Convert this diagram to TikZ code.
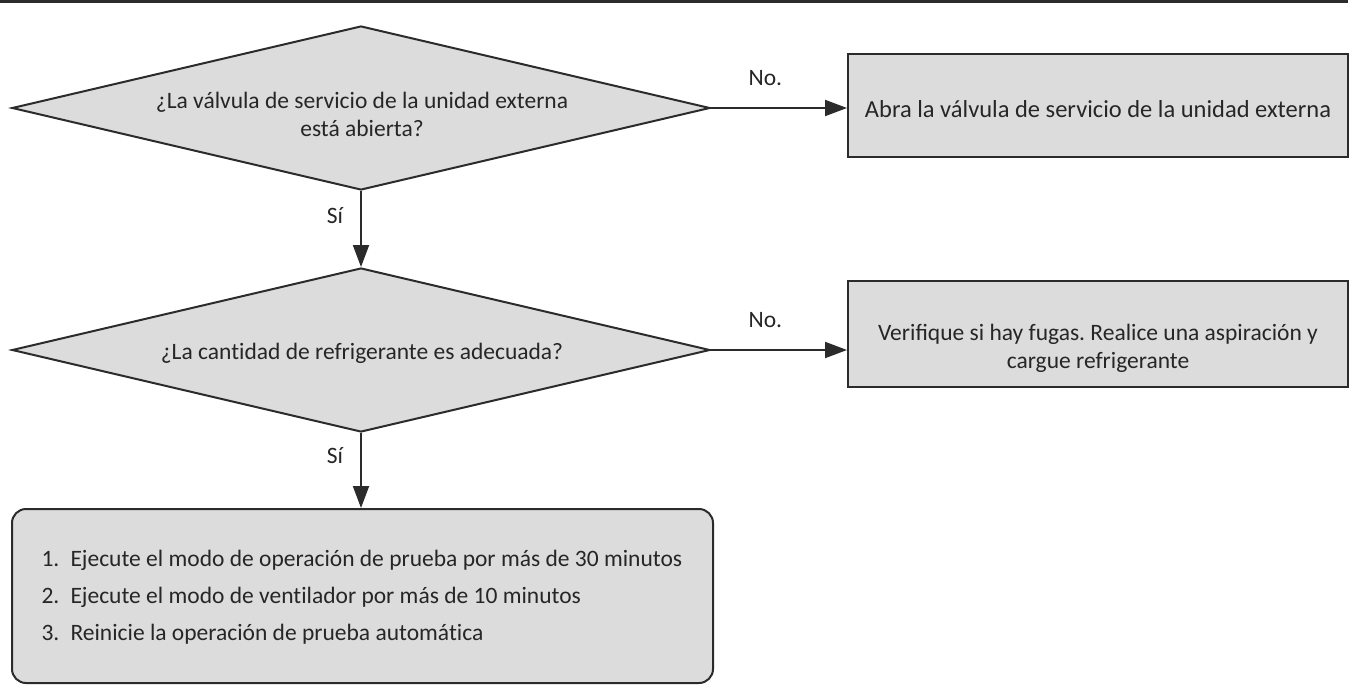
\documentclass[tikz,border=0pt]{standalone}
\usepackage{fontspec}
\setmainfont{Carlito}
\usetikzlibrary{shapes.geometric,arrows.meta}
\frenchspacing
\definecolor{boxfill}{HTML}{DCDCDC}
\definecolor{edge}{HTML}{2B2B2B}
\newcommand{\nolig}{\kern0pt }
\tikzset{
  dec/.style={shape=diamond, draw=edge, fill=boxfill, line width=2pt, inner sep=0pt, minimum width=698pt, minimum height=164pt},
  actbox/.style={shape=rectangle, draw=edge, fill=boxfill, line width=2pt, inner sep=0pt, minimum width=500pt},
  txt/.style={font=\fontsize{23.5}{28}\selectfont, text=black!85, align=center},
  conn/.style={draw=edge, line width=2pt, -{Triangle[length=22pt,width=16pt]}},
  lbl/.style={font=\fontsize{23.5}{24}\selectfont, text=black!85}
}
\begin{document}
\begin{tikzpicture}[x=1pt,y=-1pt]
\useasboundingbox (0,0) rectangle (1356,695);
\draw[edge, line width=3pt] (0,2) -- (1348,2);

\node[dec] (d1) at (361,108) {};
\node[txt] (d1t) at (362,114) {¿La válvula de servicio de la unidad externa\\está abierta?};

\node[actbox, minimum height=103pt] (b1) at (1098,105.5) {};
\node[txt, font=\fontsize{24.5}{28}\selectfont] (b1t) at (1098,109) {Abra la válvula de servicio de la unidad externa};

\node[dec] (d2) at (361,350) {};
\node[txt] (d2t) at (362,353) {¿La cant\nolig idad de refrigerante es adecuada?};

\node[actbox, minimum height=106pt] (b2) at (1098,334) {};
\node[txt] (b2t) at (1098,348) {Verifique si hay fugas. Realice una aspiración y\\cargue refrigerante};

\node[shape=rectangle, draw=edge, fill=boxfill, line width=2pt, rounded corners=14pt, minimum width=701pt, minimum height=174pt, inner sep=0pt] (r) at (362.5,596) {};
\node[txt, align=left, anchor=west, font=\fontsize{23.5}{37}\selectfont] (rt) at (38,597) {%
\makebox[29pt][l]{1.}Ejecute el modo de operación de prueba por más de 30 minutos\\
\makebox[29pt][l]{2.}Ejecute el modo de vent\nolig ilador por más de 10 minutos\\
\makebox[29pt][l]{3.}Reinicie la operación de prueba automát\nolig ica};

\draw[conn] (d1.east) -- node[lbl, pos=0.4, yshift=30pt] {No.} (b1.west |- d1.east);
\draw[conn] (d2.east) -- node[lbl, pos=0.4, yshift=30pt] {No.} (b2.west |- d2.east);
\draw[conn] (d1.south) -- node[lbl, pos=0.32, xshift=-26pt] {Sí} (d2.north);
\draw[conn] (d2.south) -- node[lbl, pos=0.3, xshift=-26pt] {Sí} (r.north -| d2.south);
\end{tikzpicture}
\end{document}
